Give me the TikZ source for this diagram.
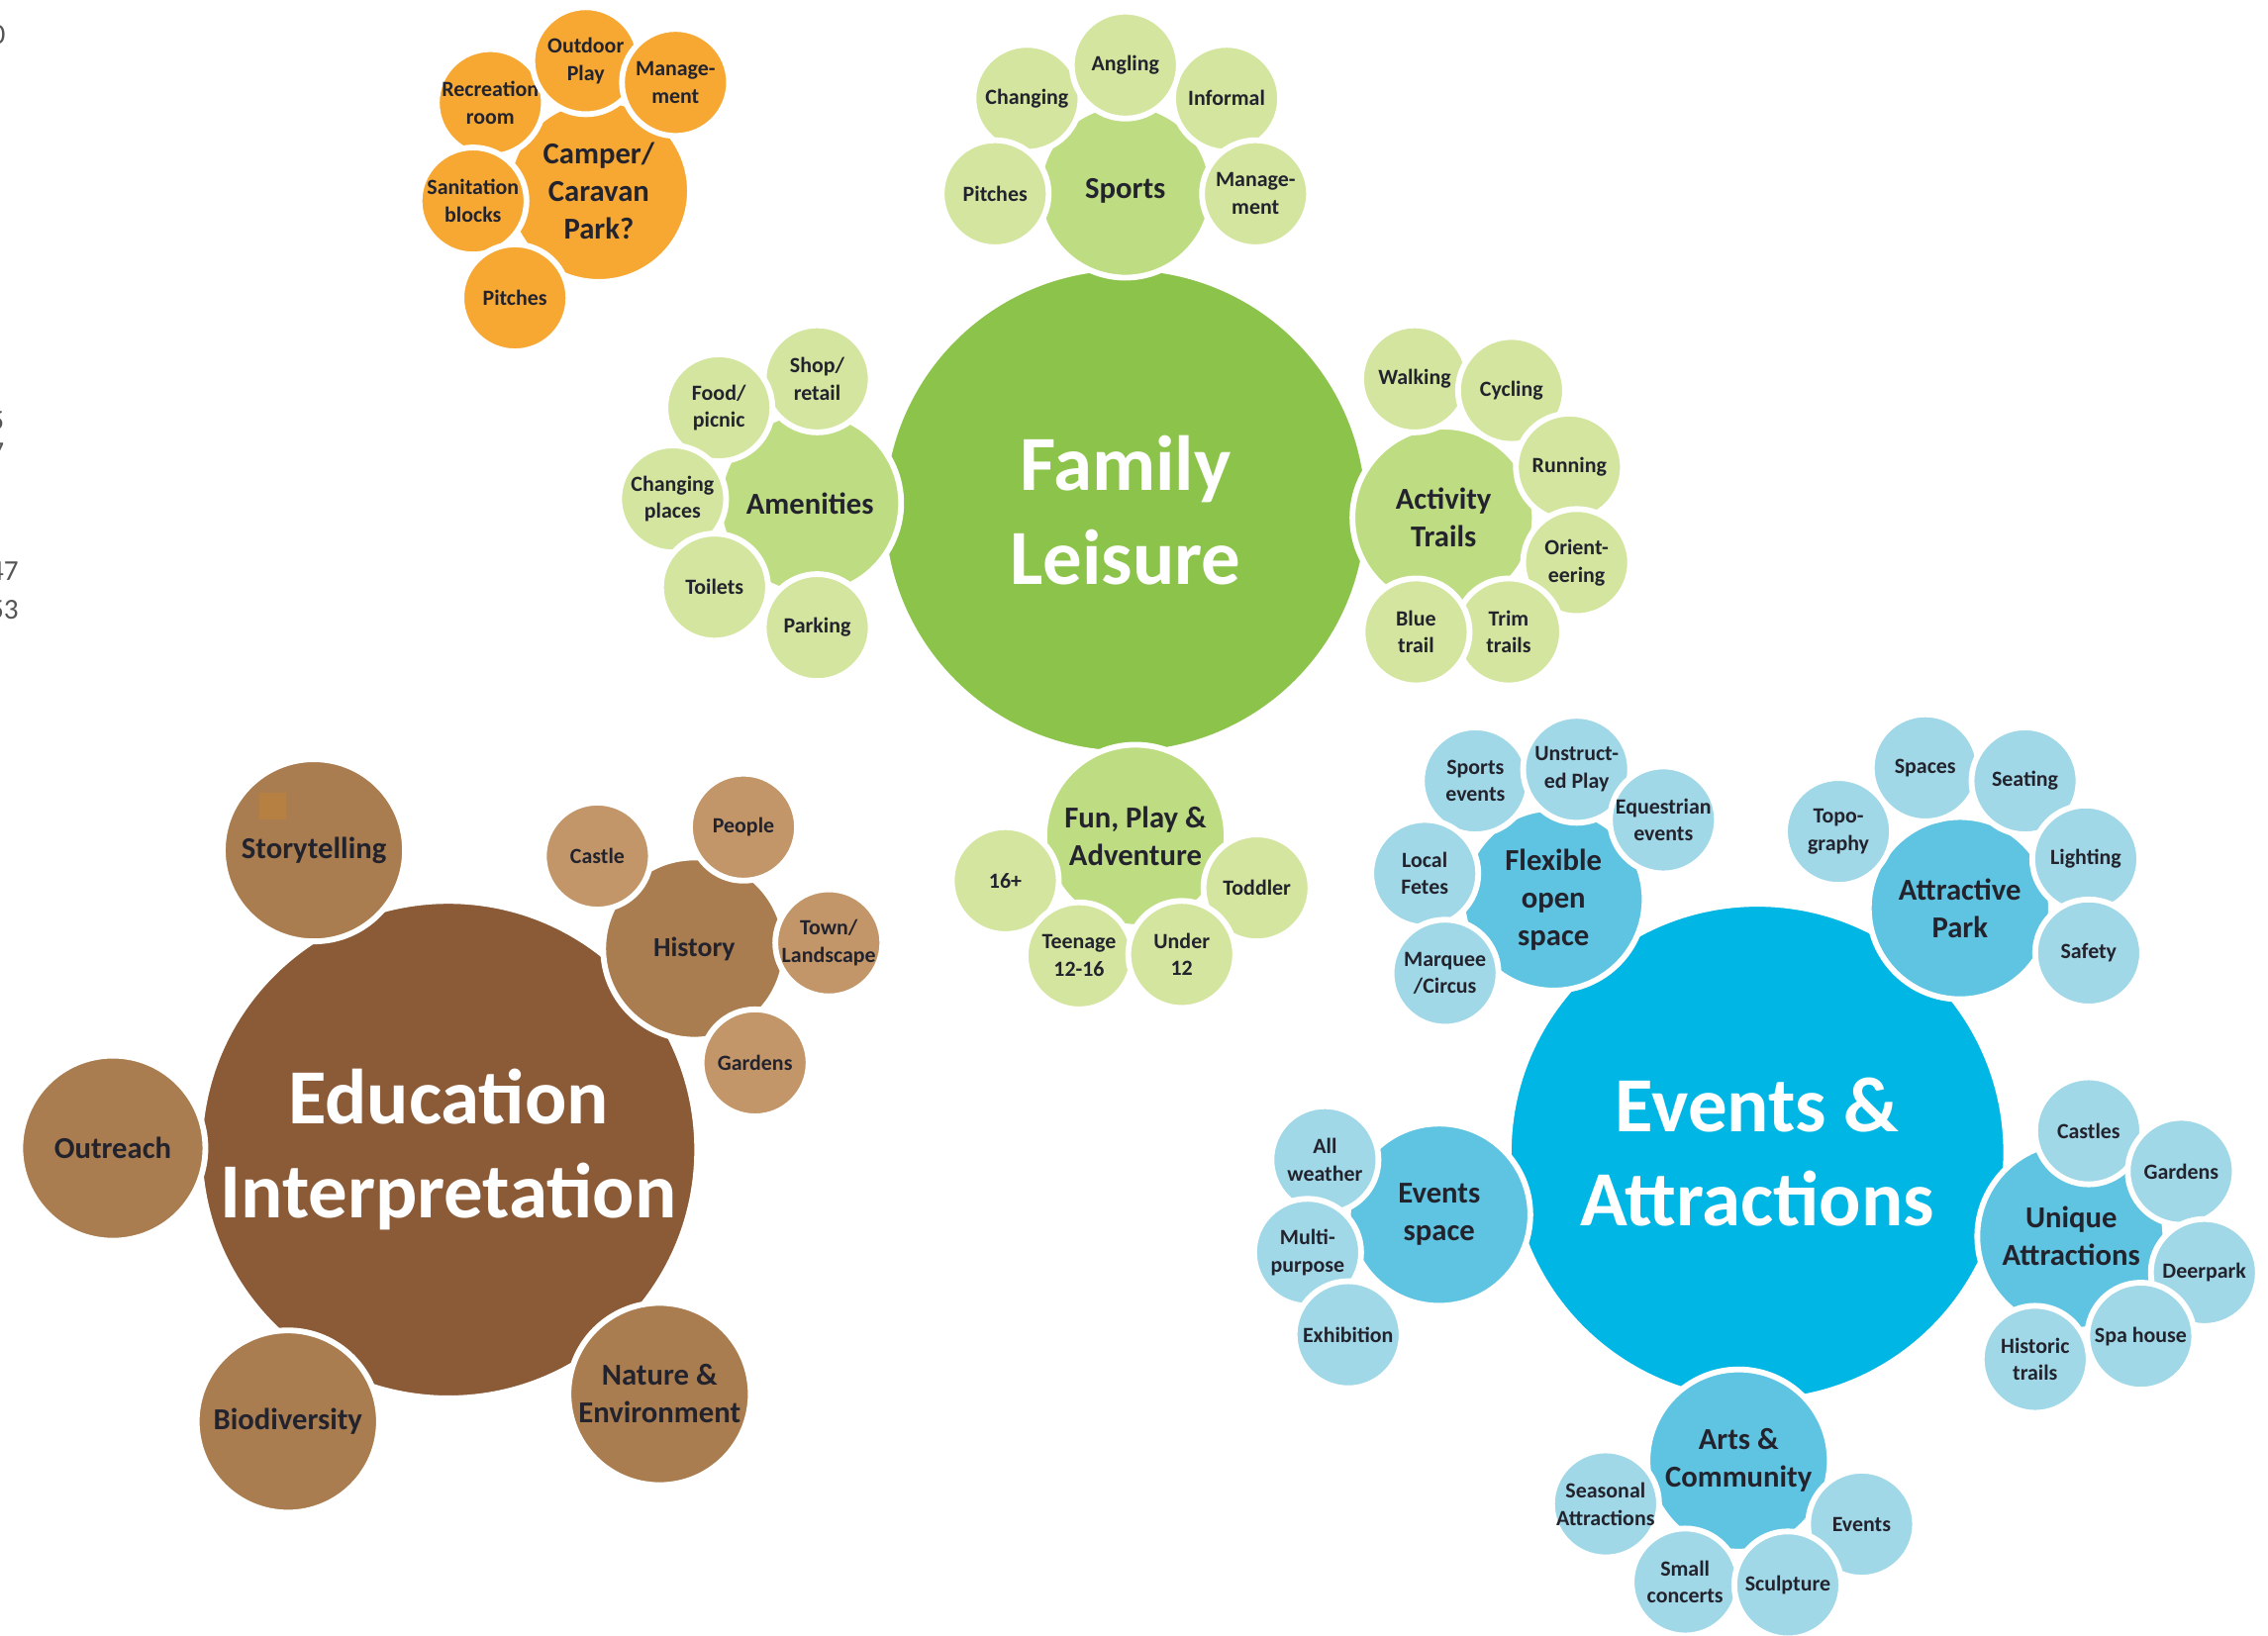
\documentclass[tikz,border=0pt]{standalone}
\usepackage{fontspec}
\setmainfont{Carlito}
\usepackage{xcolor}

\definecolor{leisure}{RGB}{140,195,75}
\definecolor{leisuremid}{RGB}{190,220,130}
\definecolor{leisurelight}{RGB}{212,229,160}
\definecolor{camper}{RGB}{246,168,51}
\definecolor{edu}{RGB}{139,90,55}
\definecolor{edumid}{RGB}{170,125,80}
\definecolor{edulight}{RGB}{195,150,105}
\definecolor{events}{RGB}{0,182,228}
\definecolor{eventsmid}{RGB}{95,196,225}
\definecolor{eventslight}{RGB}{160,216,232}
\definecolor{ink}{RGB}{35,35,45}
\definecolor{margingrey}{RGB}{85,85,85}
\definecolor{patch}{RGB}{182,128,66}

\tikzstyle{bubble}=[
        circle,
        draw = white,
        line width = 4pt,
        inner sep = -8pt,
        align = center,
        text = ink,
        font = \bfseries\fontsize{15}{19}\selectfont
    ]
\tikzstyle{big bubble}=[
    bubble,
    minimum size = 344,
    text = white,
    font = \bfseries\fontsize{54}{65}\selectfont
]
\tikzstyle{mid bubble}=[
    bubble,
    minimum size = 126,
    font = \bfseries\fontsize{21}{26}\selectfont
]
\tikzstyle{small bubble}=[
    bubble,
    minimum size = 74
]

\begin{document}
\begin{tikzpicture}[x=1pt, y=-1pt, margin/.style = {anchor=east, inner sep=0pt, text=margingrey, font=\fontsize{20}{24}\selectfont}]
        \useasboundingbox (0,0) rectangle (1568,1131);

        \node[margin] (m1) at (4,24) {0};
        \node[margin] (m2) at (3,291) {5};
        \node[margin] (m3) at (3,313) {7};
        \node[margin] (m4) at (13,395) {47};
        \node[margin] (m5) at (13,422) {53};

        % camper park
        \node[mid bubble, fill = camper] (camp) at (414,132) {Camper/\\Caravan\\Park?};
        \node[small bubble, fill = camper] (camp1) at (339,71) {Recreation\\room};
        \node[small bubble, fill = camper] (camp2) at (405,42) {Outdoor\\Play};
        \node[small bubble, fill = camper] (camp3) at (467,57) {Manage-\\ment};
        \node[small bubble, fill = camper] (camp4) at (327,139) {Sanitation\\blocks};
        \node[small bubble, fill = camper] (camp5) at (356,206) {Pitches};

        % family leisure
        \node[big bubble, fill = leisure, minimum size = 336] (fam) at (778,353) {Family\\Leisure};
        \node[mid bubble, fill = leisuremid, minimum size = 120] (sport) at (778,132) {Sports};
        \node[mid bubble, fill = leisuremid] (amen) at (560,348) {Amenities};
        \node[mid bubble, fill = leisuremid] (trail) at (998,358) {Activity\\Trails};
        \node[mid bubble, fill = leisuremid] (fun) at (785,578) {Fun, Play \&\\Adventure};

        \node[small bubble, fill = leisurelight] (sport1) at (710,68) {Changing};
        \node[small bubble, fill = leisurelight] (sport2) at (848,68) {Informal};
        \node[small bubble, fill = leisurelight] (sport3) at (778,45) {Angling};
        \node[small bubble, fill = leisurelight] (sport4) at (688,134) {Pitches};
        \node[small bubble, fill = leisurelight] (sport5) at (868,134) {Manage-\\ment};

        \node[small bubble, fill = leisurelight] (amen1) at (565,262) {Shop/\\retail};
        \node[small bubble, fill = leisurelight] (amen2) at (497,282) {Food/\\picnic};
        \node[small bubble, fill = leisurelight] (amen3) at (465,345) {Changing\\places};
        \node[small bubble, fill = leisurelight] (amen4) at (494,406) {Toilets};
        \node[small bubble, fill = leisurelight] (amen5) at (565,434) {Parking};

        \node[small bubble, fill = leisurelight] (trail1) at (978,262) {Walking};
        \node[small bubble, fill = leisurelight] (trail2) at (1045,270) {Cycling};
        \node[small bubble, fill = leisurelight] (trail3) at (1085,323) {Running};
        \node[small bubble, fill = leisurelight] (trail4) at (1090,389) {Orient-\\eering};
        \node[small bubble, fill = leisurelight] (trail5) at (1043,437) {Trim\\trails};
        \node[small bubble, fill = leisurelight] (trail6) at (979,437) {Blue\\trail};

        \node[small bubble, fill = leisurelight] (fun1) at (695,609) {16+};
        \node[small bubble, fill = leisurelight] (fun2) at (869,614) {Toddler};
        \node[small bubble, fill = leisurelight] (fun3) at (746,661) {Teenage\\12-16};
        \node[small bubble, fill = leisurelight] (fun4) at (817,660) {Under\\12};

        % education
        \node[big bubble, fill = edu] (edu) at (310,795) {Education\\Interpretation};
        \node[mid bubble, fill = edumid] (edu1) at (217,588) {Storytelling};
        \fill[patch] (179,548) rectangle (198,567);
        \node[mid bubble, fill = edumid, minimum size = 128] (edu2) at (78,794) {Outreach};
        \node[mid bubble, fill = edumid] (edu3) at (199,983) {Biodiversity};
        \node[mid bubble, fill = edumid] (edu4) at (456,964) {Nature \&\\Environment};
        \node[mid bubble, fill = edumid, font = \bfseries\fontsize{19}{23}\selectfont] (hist) at (480,656) {History};

        \node[small bubble, fill = edulight] (hist1) at (413,592) {Castle};
        \node[small bubble, fill = edulight] (hist2) at (514,572) {People};
        \node[small bubble, fill = edulight] (hist3) at (573,652) {Town/\\Landscape};
        \node[small bubble, fill = edulight] (hist4) at (522,735) {Gardens};

        % events and attractions
        \node[big bubble, fill = events] (ev) at (1215,797) {Events \&\\Attractions};
        \node[mid bubble, fill = eventsmid] (flex) at (1074,622) {Flexible\\open\\space};
        \node[mid bubble, fill = eventsmid] (park) at (1355,628) {Attractive\\Park};
        \node[mid bubble, fill = eventsmid] (space) at (995,840) {Events\\space};
        \node[mid bubble, fill = eventsmid, minimum size = 130] (uniq) at (1432,855) {Unique\\Attractions};
        \node[mid bubble, fill = eventsmid] (arts) at (1202,1010) {Arts \&\\Community};

        \node[small bubble, fill = eventslight] (flex1) at (1020,540) {Sports\\events};
        \node[small bubble, fill = eventslight] (flex2) at (1090,532) {Unstruct-\\ed Play};
        \node[small bubble, fill = eventslight] (flex3) at (1150,567) {Equestrian\\events};
        \node[small bubble, fill = eventslight] (flex4) at (985,604) {Local\\Fetes};
        \node[small bubble, fill = eventslight] (flex5) at (999,673) {Marquee\\/Circus};

        \node[small bubble, fill = eventslight] (park1) at (1271,575) {Topo-\\graphy};
        \node[small bubble, fill = eventslight] (park2) at (1331,531) {Spaces};
        \node[small bubble, fill = eventslight] (park3) at (1400,540) {Seating};
        \node[small bubble, fill = eventslight] (park4) at (1442,594) {Lighting};
        \node[small bubble, fill = eventslight] (park5) at (1444,659) {Safety};

        \node[small bubble, fill = eventslight] (space1) at (916,802) {All\\weather};
        \node[small bubble, fill = eventslight] (space2) at (904,866) {Multi-\\purpose};
        \node[small bubble, fill = eventslight] (space3) at (932,923) {Exhibition};

        \node[small bubble, fill = eventslight] (uniq1) at (1444,782) {Castles};
        \node[small bubble, fill = eventslight] (uniq2) at (1508,810) {Gardens};
        \node[small bubble, fill = eventslight] (uniq3) at (1524,880) {Deerpark};
        \node[small bubble, fill = eventslight] (uniq4) at (1480,924) {Spa house};
        \node[small bubble, fill = eventslight] (uniq5) at (1407,940) {Historic\\trails};

        \node[small bubble, fill = eventslight] (arts1) at (1110,1040) {Seasonal\\Attractions};
        \node[small bubble, fill = eventslight] (arts2) at (1287,1054) {Events};
        \node[small bubble, fill = eventslight] (arts3) at (1165,1094) {Small\\concerts};
        \node[small bubble, fill = eventslight] (arts4) at (1236,1096) {Sculpture};

    \end{tikzpicture}
\end{document}
